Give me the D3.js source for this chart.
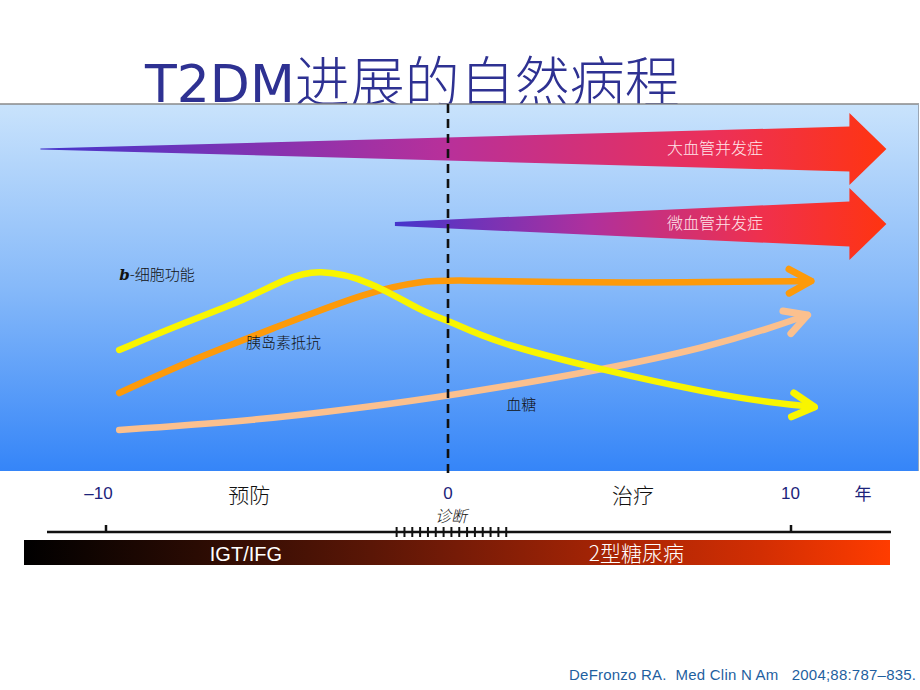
<!DOCTYPE html>
<html><head><meta charset="utf-8">
<script src="https://cdn.jsdelivr.net/npm/d3@7"></script>
<style>body{margin:0;background:#fff}svg{display:block}</style>
</head><body>
<svg id="c" width="920" height="690"></svg>
<script>
// ---- data ----
const title = ["T2DM", "进展的自然病程"];
const axisTicks = [-10, 0, 10];
const axisTickLabels = ["–10", "0", "10"];
const unitLabel = "年";
const phaseLabels = ["预防", "治疗"];
const phaseYears = [-5.8, 5.4];
const diagnosisLabel = "诊断";
const diagnosisRange = [-1.5, 1.7];
const stageLabels = ["IGT/IFG", "2型糖尿病"];
const stageYears = [-5.9, 5.5];
const complicationNames = ["大血管并发症", "微血管并发症"];
const complicationStart = [-11.9, -1.55];
const complicationEnd = [12.8, 12.8];
const complicationLevel = [160.5, 123];
// curves: [year, level]
const betaCell = [[-9.6,60],[-7.8,73],[-6.0,84.5],[-4.7,96],[-3.8,100.5],[-2.3,95],[-0.7,78.5],[0,75],[1.3,64],[4.5,50],[7.6,38.5],[9.5,33.5],[10.7,31.5]];
const insulinRes = [[-9.6,38.5],[-7.5,55],[-5.0,71.5],[-2.3,89.5],[-0.7,94.5],[0,95],[4.5,93.5],[7.6,94],[10.6,94.5]];
const glucose = [[-9.6,20],[-5.5,25],[-2.6,31],[0,37],[4.5,50],[7.6,61.5],[9.5,71.5],[10.5,77.5]];
const curveNames = ["b-细胞功能", "胰岛素抵抗", "血糖"];
const curveLabelPos = [[-9.6,95],[-5.9,61],[1.7,30]];
const citation = "DeFronzo RA.  Med Clin N Am   2004;88:787–835.";

// ---- scales ----
const svg = d3.select("#c");
const x = d3.scaleLinear().domain([-10, 10]).range([105.5, 790.5]);
const y = d3.scaleLinear().domain([0, 100]).range([470, 270]);
const defs = svg.append("defs");

// title
const t = svg.append("text").attr("x", 145).attr("y", 102).attr("fill", "#2e3192");
t.append("tspan").attr("font-family", "DejaVu Sans").attr("font-size", 52).text(title[0]);
t.append("tspan").attr("font-family", "Noto Sans CJK SC").attr("font-size", 55).attr("font-weight", 300).text(title[1]);

// panel background
const bg = defs.append("linearGradient").attr("id", "bg").attr("x1", 0).attr("y1", 0).attr("x2", 0).attr("y2", 1);
bg.append("stop").attr("offset", 0).attr("stop-color", "#c9e3fc");
bg.append("stop").attr("offset", 0.5).attr("stop-color", "#86b9f9");
bg.append("stop").attr("offset", 1).attr("stop-color", "#3585f8");
svg.append("rect").attr("x", 0).attr("y", 104).attr("width", 918).attr("height", 367).attr("fill", "url(#bg)");
svg.append("line").attr("x1", 0).attr("x2", 919).attr("y1", 104).attr("y2", 104).attr("stroke", "#8a8a8a").attr("stroke-width", 1.5);
svg.append("line").attr("x1", 918.5).attr("x2", 918.5).attr("y1", 104).attr("y2", 471).attr("stroke", "#9aa6b4").attr("stroke-width", 1);

// complication arrows
const gradStops = [
  [["0", "#4535cc"], ["0.48", "#b8309a"], ["0.8", "#ec3058"], ["1", "#ff3410"]],
  [["0", "#4535cc"], ["0.4", "#b0309c"], ["0.75", "#f0304c"], ["1", "#ff3410"]]
];
complicationNames.forEach((name, i) => {
  const x0 = x(complicationStart[i]), x2 = x(complicationEnd[i]), x1 = x2 - 37;
  const cy = y(complicationLevel[i]);
  const tailHalf = i === 0 ? 0.5 : 2, bodyHalf = 22.5, headHalf = 36;
  const g = defs.append("linearGradient").attr("id", "ag" + i).attr("gradientUnits", "userSpaceOnUse")
    .attr("x1", x0).attr("x2", x2).attr("y1", 0).attr("y2", 0);
  gradStops[i].forEach(s => g.append("stop").attr("offset", s[0]).attr("stop-color", s[1]));
  const pts = [[x0, cy - tailHalf], [x1, cy - bodyHalf], [x1, cy - headHalf], [x2, cy], [x1, cy + headHalf], [x1, cy + bodyHalf], [x0, cy + tailHalf]];
  svg.append("path").attr("d", "M" + pts.join("L") + "Z").attr("fill", "url(#ag" + i + ")");
  svg.append("text").attr("x", 715).attr("y", cy + 5).attr("text-anchor", "middle")
    .attr("font-family", "Noto Sans CJK SC").attr("font-weight", 300).attr("font-size", 16).attr("fill", "#ffe6ea").text(name);
});

// curves
const line = d3.line().x(d => x(d[0])).y(d => y(d[1])).curve(d3.curveBasis);
const curves = [[glucose, "#fbc08e"], [insulinRes, "#fd9a0a"], [betaCell, "#f9f500"]];
curves.forEach(([data, col]) => {
  svg.append("path").attr("d", line(data)).attr("fill", "none").attr("stroke", col)
    .attr("stroke-width", 6.5).attr("stroke-linecap", "round");
  const a = data[data.length - 1], b = data[data.length - 2];
  const tx = x(a[0]), ty = y(a[1]);
  const ang = Math.atan2(ty - y(b[1]), tx - x(b[0]));
  const L = 25, s = 0.5;
  const p1 = [tx - L * Math.cos(ang - s), ty - L * Math.sin(ang - s)];
  const p2 = [tx - L * Math.cos(ang + s), ty - L * Math.sin(ang + s)];
  svg.append("path").attr("d", `M${p1}L${tx},${ty}L${p2}`).attr("fill", "none").attr("stroke", col)
    .attr("stroke-width", 7).attr("stroke-linecap", "round").attr("stroke-linejoin", "round");
});

// curve labels
const cl0 = svg.append("text").attr("x", x(curveLabelPos[0][0])).attr("y", y(curveLabelPos[0][1]))
  .attr("font-size", 15).attr("fill", "#111");
cl0.append("tspan").attr("font-family", "DejaVu Serif").attr("font-style", "italic").attr("font-weight", "bold").text(curveNames[0].slice(0, 1));
cl0.append("tspan").attr("font-family", "Noto Sans CJK SC").attr("font-weight", 300).text(curveNames[0].slice(1));
[1, 2].forEach(i => {
  svg.append("text").attr("x", x(curveLabelPos[i][0])).attr("y", y(curveLabelPos[i][1]))
    .attr("font-family", "Noto Sans CJK SC").attr("font-weight", 300).attr("font-size", 15).attr("fill", "#111").text(curveNames[i]);
});

// dashed diagnosis line
svg.append("line").attr("x1", x(0)).attr("x2", x(0)).attr("y1", 104).attr("y2", 474)
  .attr("stroke", "#111").attr("stroke-width", 2.6).attr("stroke-dasharray", "9,6");

// axis
const axisY = 532;
const axis = d3.axisTop(x).tickValues(axisTicks).tickSize(7).tickFormat("");
const ag = svg.append("g").attr("transform", `translate(0,${axisY})`).call(axis);
ag.select(".domain").remove();
ag.selectAll(".tick line").attr("stroke", "#111").attr("stroke-width", 2.5).filter(d => d === 0).remove();
svg.append("line").attr("x1", 47).attr("x2", 891).attr("y1", axisY).attr("y2", axisY).attr("stroke", "#111").attr("stroke-width", 2.5);
d3.range(diagnosisRange[0], diagnosisRange[1] + 0.001, (diagnosisRange[1] - diagnosisRange[0]) / 14).forEach(v => {
  svg.append("line").attr("x1", x(v)).attr("x2", x(v)).attr("y1", axisY - 5).attr("y2", axisY + 5).attr("stroke", "#111").attr("stroke-width", 2);
});
axisTicks.forEach((v, i) => {
  svg.append("text").attr("x", x(v) - (i === 0 ? 7 : 0)).attr("y", 499).attr("text-anchor", "middle")
    .attr("font-family", "Liberation Sans").attr("font-size", 17).attr("fill", "#1c237a").text(axisTickLabels[i]);
});
svg.append("text").attr("x", 863).attr("y", 500).attr("text-anchor", "middle")
  .attr("font-family", "Noto Sans CJK SC").attr("font-size", 17).attr("fill", "#1c237a").text(unitLabel);
phaseLabels.forEach((p, i) => {
  svg.append("text").attr("x", x(phaseYears[i])).attr("y", 503).attr("text-anchor", "middle")
    .attr("font-family", "Noto Sans CJK SC").attr("font-weight", 300).attr("font-size", 21).attr("fill", "#111").text(p);
});
svg.append("text").attr("x", 451).attr("y", 522).attr("text-anchor", "middle")
  .attr("font-family", "Noto Sans CJK SC").attr("font-weight", 300).attr("font-style", "italic").attr("font-size", 16).attr("fill", "#111")
  .text(diagnosisLabel);

// stage bar
const sg = defs.append("linearGradient").attr("id", "sg").attr("gradientUnits", "userSpaceOnUse").attr("x1", 24).attr("x2", 890).attr("y1", 0).attr("y2", 0);
[["0", "#000000"], ["0.2", "#2a0b03"], ["0.4", "#5a1606"], ["0.5", "#761b07"], ["0.65", "#a02305"], ["0.85", "#d22e03"], ["1", "#ff3c00"]]
  .forEach(s => sg.append("stop").attr("offset", s[0]).attr("stop-color", s[1]));
svg.append("rect").attr("x", 24).attr("y", 540).attr("width", 866).attr("height", 25).attr("fill", "url(#sg)");
stageLabels.forEach((s, i) => {
  svg.append("text").attr("x", x(stageYears[i])).attr("y", 561).attr("text-anchor", "middle")
    .attr("font-family", i === 0 ? "Liberation Sans" : "Noto Sans CJK SC").attr("font-weight", i === 0 ? 400 : 300)
    .attr("font-size", i === 0 ? 20 : 21).attr("fill", "#ffffff").text(s);
});

// citation
svg.append("text").attr("x", 569).attr("y", 680).attr("font-family", "Liberation Sans").attr("font-size", 15)
  .attr("textLength", 347).attr("lengthAdjust", "spacing")
  .attr("fill", "#1f5f9f").style("white-space", "pre").text(citation);
</script>
</body></html>
